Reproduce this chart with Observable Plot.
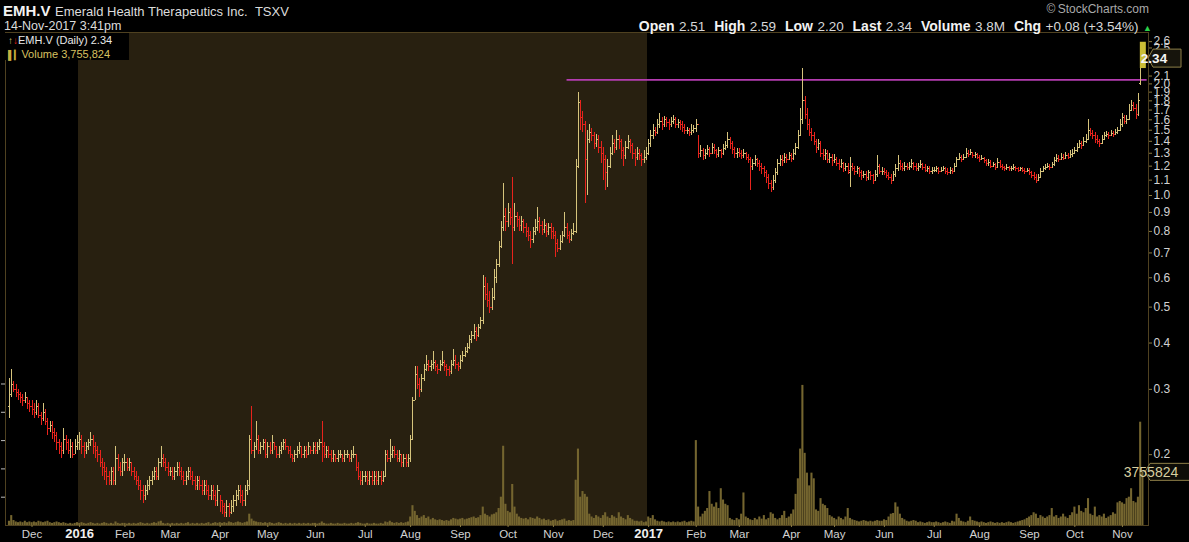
<!DOCTYPE html>
<html><head><meta charset="utf-8">
<script src="https://cdn.jsdelivr.net/npm/d3@7"></script>
<script src="https://cdn.jsdelivr.net/npm/@observablehq/plot@0.6"></script>
<style>
html,body{margin:0;padding:0;background:#000;}
#wrap{position:relative;width:1189px;height:542px;background:#000;overflow:hidden;font-family:"Liberation Sans",Arial,sans-serif;}
#wrap svg{position:absolute;left:0;top:0;}
.hdr{position:absolute;white-space:nowrap;color:#e6e6e6;line-height:1;}
</style></head><body><div id="wrap"></div>
<script>
// ---------- data ----------
const ticker = "EMH.V";
const company = "Emerald Health Therapeutics Inc.";
const exchange = "TSXV";
const stamp = "14-Nov-2017 3:41pm";
const lastDate = "2017-11-14";
const holidays = ["2015-12-25","2015-12-28","2016-01-01","2016-02-15","2016-03-25","2016-05-23","2016-07-01","2016-08-01","2016-09-05","2016-10-10","2016-12-26","2016-12-27","2017-01-02","2017-02-20","2017-04-14","2017-05-22","2017-07-03","2017-08-07","2017-09-04","2017-10-09"];
const quoteLabels = ["Open","High","Low","Last","Volume","Chg"];
const quoteValues = ["2.51","2.59","2.20","2.34","3.8M","+0.08 (+3.54%)"];
const lastVolume = 3755824;
const resistance = 2.05;
const resistanceFrom = "2016-11-09";
const priceTicks = [0.2,0.3,0.4,0.5,0.6,0.7,0.8,0.9,1.0,1.1,1.2,1.3,1.4,1.5,1.6,1.7,1.8,1.9,2.0,2.1,2.5,2.6];
const volumeTicks = [2,4,6,8,10];
const monthNames = ["Jan","Feb","Mar","Apr","May","Jun","Jul","Aug","Sep","Oct","Nov","Dec"];

const open = [
.27,.29,.31,.30,.295,.29,.285,.28,.285,.275,
.27,.265,.26,.27,.255,.25,.26,.245,.235,.24,.23,.225,.215,.21,.205,.22,.215,.205,.21,.20,.21,
.215,.22,.21,.205,.21,.215,.22,.21,.205,.20,.19,.185,.18,.175,.17,.18,.17,.195,.185,.18,
.19,.19,.185,.19,.18,.175,.17,.165,.16,.155,.16,.165,.17,.175,.18,.175,.19,.195,.19,.185,
.18,.18,.175,.18,.185,.18,.175,.17,.175,.18,.175,.17,.165,.17,.165,.16,.165,.16,.155,.16,.155,.15,
.16,.15,.145,.14,.145,.14,.145,.15,.155,.16,.155,.15,.16,.165,.22,.205,.21,.22,.205,.21,.215,
.20,.21,.205,.215,.21,.20,.205,.21,.215,.21,.205,.20,.195,.20,.205,.21,.20,.205,.20,.21,.205,
.21,.205,.21,.215,.21,.20,.205,.20,.195,.20,.195,.20,.20,.195,.20,.20,.195,.20,.20,.185,.175,.17,
.175,.175,.17,.175,.17,.175,.17,.175,.17,.175,.20,.195,.20,.205,.20,.195,.20,.19,.195,.19,
.195,.22,.28,.33,.31,.30,.32,.34,.35,.345,.35,.355,.345,.34,.35,.355,.345,.34,.335,.35,.36,.35,
.345,.36,.37,.38,.39,.41,.42,.43,.42,.44,.46,.57,.54,.52,.50,.53,.60,.65,.73,.82,.88,
.85,.90,.87,.82,.88,.86,.83,.85,.82,.80,.78,.76,.80,.82,.85,.83,.81,.83,.80,.82,
.80,.78,.74,.72,.75,.78,.82,.78,.76,.79,.80,1.20,1.78,1.62,1.55,1.25,1.42,1.48,1.45,1.38,1.42,1.35,
1.30,1.25,1.15,1.20,1.30,1.38,1.35,1.42,1.40,1.32,1.28,1.35,1.40,1.36,1.30,1.27,1.30,1.28,1.25,1.27,
1.30,1.38,1.45,1.50,1.48,1.55,1.58,1.55,1.60,1.57,1.55,1.58,1.60,1.55,1.57,1.55,1.53,1.50,1.50,1.48,1.50,
1.52,1.55,1.30,1.32,1.28,1.30,1.33,1.30,1.35,1.32,1.29,1.32,1.30,1.34,1.36,1.42,1.38,1.33,1.30,
1.31,1.30,1.28,1.30,1.27,1.25,1.20,1.22,1.25,1.22,1.20,1.18,1.15,1.12,1.08,1.05,1.10,1.15,1.22,1.25,1.24,1.27,1.25,
1.28,1.26,1.30,1.35,1.45,1.60,1.80,1.65,1.55,1.48,1.45,1.40,1.35,1.38,1.30,1.28,1.30,1.25,1.27,
1.24,1.25,1.22,1.20,1.22,1.18,1.20,1.15,1.20,1.18,1.16,1.18,1.15,1.13,1.14,1.12,1.15,1.13,1.10,1.14,1.20,1.16,
1.16,1.15,1.13,1.12,1.10,1.14,1.18,1.22,1.20,1.18,1.20,1.19,1.20,1.22,1.20,1.18,1.20,1.21,1.19,1.17,1.18,1.16,
1.17,1.17,1.18,1.16,1.17,1.18,1.16,1.15,1.17,1.16,1.20,1.25,1.27,1.25,1.27,1.30,1.29,1.31,1.28,1.29,
1.27,1.25,1.26,1.24,1.22,1.23,1.20,1.21,1.19,1.23,1.20,1.19,1.18,1.19,1.18,1.18,1.19,1.18,1.17,1.18,1.17,1.16,
1.17,1.15,1.13,1.12,1.10,1.12,1.16,1.18,1.19,1.20,1.19,1.21,1.24,1.26,1.25,1.27,1.26,1.28,1.27,1.29,
1.30,1.32,1.35,1.38,1.36,1.40,1.42,1.50,1.47,1.45,1.42,1.40,1.38,1.42,1.45,1.46,1.45,1.47,1.46,1.48,1.50,
1.55,1.62,1.58,1.60,1.70,1.75,1.72,1.65,2.00,2.51
];
const high = [
.32,.34,.315,.31,.30,.295,.29,.295,.285,.28,
.28,.275,.28,.275,.26,.275,.265,.25,.245,.245,.235,.23,.22,.215,.235,.225,.22,.22,.215,.22,.225,
.23,.225,.215,.215,.22,.23,.225,.215,.21,.205,.195,.19,.185,.18,.185,.185,.21,.20,.19,.195,
.20,.195,.195,.19,.185,.18,.175,.17,.165,.165,.17,.175,.18,.185,.185,.195,.21,.20,.195,.19,
.185,.185,.185,.19,.19,.185,.18,.18,.185,.185,.18,.175,.175,.175,.17,.17,.17,.165,.165,.165,.16,.165,
.155,.15,.148,.15,.148,.15,.155,.16,.165,.165,.16,.165,.17,.225,.27,.215,.245,.225,.215,.22,.22,
.215,.215,.225,.215,.21,.21,.215,.22,.22,.21,.21,.20,.205,.21,.215,.21,.21,.21,.215,.21,.215,
.215,.215,.22,.245,.215,.21,.21,.205,.205,.20,.205,.205,.20,.205,.205,.20,.205,.21,.20,.19,.18,.18,
.18,.18,.18,.18,.18,.18,.18,.18,.18,.205,.205,.22,.21,.21,.205,.205,.20,.20,.20,.20,
.225,.285,.345,.345,.32,.33,.35,.37,.36,.36,.38,.36,.35,.36,.38,.36,.35,.345,.36,.385,.37,.355,
.37,.38,.39,.40,.42,.43,.45,.44,.45,.47,.61,.60,.58,.55,.56,.63,.67,.75,.85,1.08,.92,
.95,.92,1.12,.95,.90,.88,.88,.86,.84,.82,.80,.82,.86,.93,.87,.85,.86,.84,.84,.84,
.82,.80,.76,.78,.80,.90,.84,.80,.81,.84,1.25,1.90,1.80,1.68,1.58,1.50,1.55,1.52,1.48,1.46,1.45,1.40,
1.35,1.28,1.25,1.35,1.45,1.42,1.50,1.45,1.42,1.35,1.40,1.45,1.42,1.38,1.33,1.35,1.33,1.30,1.32,1.35,
1.42,1.50,1.55,1.53,1.60,1.66,1.62,1.63,1.62,1.60,1.62,1.64,1.62,1.60,1.59,1.58,1.55,1.53,1.52,1.55,1.54,
1.60,1.45,1.36,1.34,1.33,1.36,1.35,1.38,1.37,1.33,1.35,1.33,1.37,1.40,1.48,1.43,1.40,1.35,1.34,
1.34,1.32,1.33,1.31,1.29,1.27,1.25,1.28,1.26,1.24,1.22,1.20,1.17,1.14,1.10,1.13,1.18,1.25,1.28,1.28,1.30,1.29,1.31,
1.30,1.33,1.38,1.50,1.72,2.20,1.85,1.72,1.60,1.52,1.48,1.42,1.42,1.40,1.33,1.33,1.32,1.30,1.29,
1.29,1.27,1.25,1.25,1.23,1.22,1.22,1.27,1.22,1.20,1.20,1.19,1.17,1.16,1.16,1.17,1.16,1.14,1.17,1.28,1.21,1.19,
1.18,1.17,1.15,1.14,1.16,1.21,1.28,1.24,1.22,1.23,1.22,1.23,1.25,1.23,1.22,1.22,1.24,1.22,1.21,1.20,1.20,1.19,
1.19,1.20,1.19,1.19,1.20,1.19,1.18,1.19,1.18,1.22,1.27,1.30,1.28,1.29,1.34,1.32,1.33,1.31,1.31,1.30,
1.28,1.28,1.27,1.25,1.25,1.24,1.23,1.22,1.26,1.24,1.21,1.20,1.21,1.20,1.20,1.21,1.20,1.19,1.19,1.19,1.18,1.18,
1.18,1.16,1.15,1.14,1.14,1.18,1.20,1.21,1.22,1.21,1.23,1.27,1.29,1.28,1.30,1.29,1.31,1.30,1.32,1.33,
1.35,1.38,1.41,1.40,1.43,1.46,1.60,1.52,1.50,1.48,1.45,1.42,1.45,1.48,1.49,1.48,1.50,1.49,1.51,1.53,1.60,
1.66,1.64,1.64,1.76,1.80,1.78,1.76,1.88,2.28,2.59
];
const low = [
.25,.285,.295,.285,.28,.275,.27,.275,.265,.26,
.255,.25,.255,.25,.24,.245,.24,.225,.23,.22,.215,.205,.20,.195,.20,.205,.20,.195,.195,.20,.205,
.205,.20,.195,.20,.205,.21,.20,.195,.19,.185,.175,.17,.165,.165,.165,.165,.165,.18,.175,.175,
.18,.18,.18,.175,.17,.165,.16,.15,.148,.15,.155,.16,.165,.17,.17,.17,.185,.185,.18,.175,
.175,.17,.17,.175,.175,.17,.165,.165,.17,.17,.165,.16,.16,.16,.155,.155,.155,.15,.15,.15,.145,.145,
.14,.138,.135,.135,.135,.138,.14,.145,.15,.148,.145,.145,.155,.16,.20,.195,.205,.20,.20,.205,.195,
.195,.20,.20,.205,.195,.195,.20,.205,.205,.20,.195,.19,.19,.195,.20,.195,.195,.195,.20,.20,.20,
.20,.20,.205,.19,.195,.195,.195,.19,.19,.19,.19,.195,.19,.19,.195,.19,.19,.195,.18,.17,.165,.165,
.168,.165,.165,.165,.165,.165,.165,.165,.168,.175,.19,.19,.195,.195,.19,.19,.185,.185,.185,.185,
.19,.22,.28,.30,.285,.295,.315,.335,.335,.335,.34,.335,.33,.335,.345,.335,.325,.325,.33,.345,.34,.335,
.34,.355,.365,.375,.385,.40,.41,.405,.415,.435,.45,.52,.50,.48,.49,.52,.58,.64,.72,.80,.80,
.82,.83,.65,.80,.82,.80,.80,.79,.77,.75,.72,.74,.78,.80,.79,.78,.79,.77,.78,.76,
.76,.68,.70,.71,.74,.77,.76,.74,.75,.78,.79,1.18,1.50,1.48,.95,1.00,1.38,1.40,1.33,1.35,1.30,1.22,
1.10,1.03,1.05,1.18,1.28,1.30,1.32,1.33,1.25,1.20,1.25,1.33,1.30,1.25,1.20,1.24,1.24,1.20,1.22,1.24,
1.28,1.35,1.42,1.44,1.46,1.52,1.50,1.53,1.53,1.50,1.53,1.55,1.52,1.52,1.50,1.48,1.46,1.46,1.44,1.45,1.47,
1.48,1.26,1.27,1.24,1.25,1.28,1.27,1.29,1.29,1.26,1.27,1.26,1.28,1.32,1.34,1.33,1.29,1.26,1.26,
1.27,1.25,1.26,1.24,1.22,1.03,1.17,1.20,1.19,1.16,1.14,1.12,1.08,1.04,1.02,1.03,1.08,1.13,1.20,1.20,1.22,1.22,1.24,
1.23,1.24,1.28,1.33,1.44,1.55,1.60,1.50,1.44,1.40,1.36,1.30,1.32,1.27,1.24,1.24,1.22,1.22,1.20,
1.22,1.20,1.17,1.18,1.15,1.16,1.14,1.05,1.16,1.13,1.14,1.12,1.10,1.11,1.09,1.10,1.10,1.07,1.09,1.12,1.14,1.13,
1.13,1.11,1.10,1.07,1.09,1.12,1.16,1.17,1.16,1.16,1.17,1.17,1.18,1.17,1.16,1.16,1.18,1.17,1.15,1.15,1.14,1.14,
1.15,1.15,1.14,1.15,1.16,1.14,1.13,1.14,1.14,1.15,1.19,1.24,1.23,1.24,1.26,1.27,1.28,1.26,1.26,1.25,
1.23,1.24,1.22,1.20,1.20,1.18,1.19,1.17,1.18,1.18,1.17,1.16,1.17,1.16,1.16,1.17,1.16,1.15,1.16,1.15,1.14,1.15,
1.13,1.11,1.10,1.08,1.09,1.11,1.15,1.17,1.18,1.17,1.18,1.20,1.23,1.23,1.24,1.24,1.25,1.25,1.26,1.27,
1.29,1.31,1.34,1.33,1.36,1.38,1.41,1.44,1.42,1.38,1.37,1.35,1.37,1.41,1.43,1.42,1.44,1.43,1.45,1.46,1.49,
1.53,1.55,1.55,1.59,1.68,1.68,1.60,1.63,1.98,2.20
];
const close = [
.29,.31,.30,.295,.29,.285,.28,.285,.275,.27,
.265,.26,.27,.255,.25,.26,.245,.235,.24,.23,.225,.215,.21,.205,.22,.215,.205,.21,.20,.21,.215,
.22,.21,.205,.21,.215,.22,.21,.205,.20,.19,.185,.18,.175,.17,.18,.17,.195,.185,.18,.19,
.19,.185,.19,.18,.175,.17,.165,.16,.155,.16,.165,.17,.175,.18,.175,.19,.195,.19,.185,.18,
.18,.175,.18,.185,.18,.175,.17,.175,.18,.175,.17,.165,.17,.165,.16,.165,.16,.155,.16,.155,.15,.16,
.15,.145,.14,.145,.14,.145,.15,.155,.16,.155,.15,.16,.165,.22,.205,.21,.22,.205,.21,.215,.20,
.21,.205,.215,.21,.20,.205,.21,.215,.21,.205,.20,.195,.20,.205,.21,.20,.205,.20,.21,.205,.21,
.205,.21,.215,.21,.20,.205,.20,.195,.20,.195,.20,.20,.195,.20,.20,.195,.20,.20,.185,.175,.17,.175,
.175,.17,.175,.17,.175,.17,.175,.17,.175,.20,.195,.20,.205,.20,.195,.20,.19,.195,.19,.195,
.22,.28,.33,.31,.30,.32,.34,.35,.345,.35,.355,.345,.34,.35,.355,.345,.34,.335,.35,.36,.35,.345,
.36,.37,.38,.39,.41,.42,.43,.42,.44,.46,.57,.54,.52,.50,.53,.60,.65,.73,.82,.88,.85,
.90,.87,.82,.88,.86,.83,.85,.82,.80,.78,.76,.80,.82,.85,.83,.81,.83,.80,.82,.80,
.78,.74,.72,.75,.78,.82,.78,.76,.79,.80,1.20,1.78,1.62,1.55,1.25,1.42,1.48,1.45,1.38,1.42,1.35,1.30,
1.25,1.15,1.20,1.30,1.38,1.35,1.42,1.40,1.32,1.28,1.35,1.40,1.36,1.30,1.27,1.30,1.28,1.25,1.27,1.30,
1.38,1.45,1.50,1.48,1.55,1.58,1.55,1.60,1.57,1.55,1.58,1.60,1.55,1.57,1.55,1.53,1.50,1.50,1.48,1.50,1.52,
1.55,1.30,1.32,1.28,1.30,1.33,1.30,1.35,1.32,1.29,1.32,1.30,1.34,1.36,1.42,1.38,1.33,1.30,1.31,
1.30,1.28,1.30,1.27,1.25,1.20,1.22,1.25,1.22,1.20,1.18,1.15,1.12,1.08,1.05,1.10,1.15,1.22,1.25,1.24,1.27,1.25,1.28,
1.26,1.30,1.35,1.45,1.60,1.80,1.65,1.55,1.48,1.45,1.40,1.35,1.38,1.30,1.28,1.30,1.25,1.27,1.24,
1.25,1.22,1.20,1.22,1.18,1.20,1.17,1.20,1.18,1.16,1.18,1.15,1.13,1.14,1.12,1.15,1.13,1.10,1.14,1.20,1.16,1.16,
1.15,1.13,1.12,1.10,1.14,1.18,1.22,1.20,1.18,1.20,1.19,1.20,1.22,1.20,1.18,1.20,1.21,1.19,1.17,1.18,1.16,1.17,
1.17,1.18,1.16,1.17,1.18,1.16,1.15,1.17,1.16,1.20,1.25,1.27,1.25,1.27,1.30,1.29,1.31,1.28,1.29,1.27,
1.25,1.26,1.24,1.22,1.23,1.20,1.21,1.19,1.23,1.20,1.19,1.18,1.19,1.18,1.18,1.19,1.18,1.17,1.18,1.17,1.16,1.17,
1.15,1.13,1.12,1.10,1.12,1.16,1.18,1.19,1.20,1.19,1.21,1.24,1.26,1.25,1.27,1.26,1.28,1.27,1.29,1.30,
1.32,1.35,1.38,1.36,1.40,1.42,1.50,1.47,1.45,1.42,1.40,1.38,1.42,1.45,1.46,1.45,1.47,1.46,1.48,1.50,1.55,
1.62,1.58,1.60,1.70,1.75,1.72,1.65,1.80,2.26,2.34
];
// volume in millions of shares
const volumeM = [
0.3,0.7,0.35,0.25,0.2,0.25,0.2,0.3,0.2,0.25,
0.2,0.25,0.2,0.3,0.25,0.2,0.25,0.3,0.2,0.15,0.2,0.25,0.2,0.15,0.2,0.15,0.1,0.15,0.1,0.15,0.2,
0.15,0.2,0.15,0.1,0.15,0.2,0.15,0.1,0.15,0.1,0.15,0.2,0.15,0.1,0.15,0.1,0.25,0.15,0.1,0.15,
0.15,0.1,0.15,0.1,0.15,0.1,0.15,0.2,0.15,0.1,0.15,0.1,0.15,0.2,0.15,0.25,0.3,0.15,0.1,0.15,
0.1,0.15,0.1,0.15,0.1,0.15,0.1,0.15,0.2,0.1,0.15,0.1,0.15,0.1,0.15,0.1,0.15,0.2,0.1,0.15,0.2,0.15,
0.2,0.15,0.2,0.15,0.25,0.2,0.15,0.2,0.25,0.2,0.15,0.2,0.25,0.8,0.45,0.3,0.25,0.2,0.2,0.15,0.2,
0.15,0.2,0.15,0.1,0.15,0.2,0.15,0.1,0.15,0.1,0.15,0.1,0.15,0.1,0.15,0.1,0.15,0.1,0.15,0.1,0.15,
0.15,0.1,0.15,0.25,0.15,0.1,0.1,0.15,0.1,0.1,0.15,0.1,0.1,0.15,0.1,0.1,0.15,0.1,0.15,0.2,0.15,0.1,
0.1,0.15,0.1,0.1,0.15,0.1,0.1,0.15,0.1,0.25,0.2,0.3,0.2,0.15,0.2,0.15,0.2,0.15,0.2,0.25,
0.6,1.4,1.0,0.7,0.5,0.6,0.7,0.5,0.6,0.4,0.5,0.4,0.35,0.4,0.35,0.3,0.35,0.3,0.4,0.5,0.45,0.4,
0.45,0.5,0.4,0.45,0.5,0.55,0.6,0.5,0.55,0.7,1.3,0.8,0.7,0.6,0.75,0.8,0.9,1.2,2.0,5.6,1.5,
1.0,0.9,2.9,1.3,0.8,0.6,0.5,0.45,0.5,0.4,0.55,0.5,0.45,0.6,0.5,0.4,0.45,0.35,0.4,0.3,
0.35,0.4,0.3,0.35,0.4,0.45,0.3,0.35,0.3,0.35,3.2,5.4,2.0,2.4,2.2,2.0,0.8,0.6,0.5,0.7,0.6,0.5,
0.7,0.9,0.6,0.5,0.7,0.6,0.5,0.9,0.6,0.5,0.4,0.7,0.5,0.4,0.3,0.3,0.25,0.3,0.2,0.25,
0.6,0.5,0.7,0.4,0.3,0.25,0.3,0.25,0.2,0.25,0.2,0.25,0.2,0.25,0.2,0.25,0.3,0.2,0.25,0.3,0.25,
6.0,1.3,0.6,0.8,1.0,1.2,2.4,1.5,1.3,1.6,1.2,2.6,1.8,1.5,1.4,0.5,0.4,0.35,0.5,
0.4,0.8,2.3,0.6,0.5,0.4,0.35,0.5,0.4,0.6,0.45,0.7,0.4,0.5,0.9,0.8,0.5,0.4,0.5,0.7,1.0,0.5,0.6,
0.8,1.1,2.2,3.3,5.4,9.9,5.1,3.7,2.8,3.7,3.3,1.1,1.0,1.9,1.5,1.4,1.2,0.7,0.6,
0.5,0.4,0.6,0.5,0.4,0.6,1.2,0.5,0.4,0.35,0.3,0.25,0.3,0.35,0.3,0.25,0.3,0.25,0.3,0.35,0.3,0.3,
0.4,0.35,0.6,0.8,0.85,1.6,1.3,0.8,0.5,0.4,0.3,0.25,0.3,0.35,0.3,0.2,0.25,0.2,0.15,0.2,0.25,0.2,
0.2,0.25,0.2,0.15,0.2,0.25,0.2,0.15,0.3,0.25,0.8,0.5,0.3,0.25,0.2,0.3,0.6,0.35,0.3,0.25,
0.2,0.25,0.2,0.15,0.2,0.25,0.2,0.15,0.2,0.15,0.2,0.15,0.2,0.25,0.2,0.15,0.2,0.25,0.3,0.35,0.4,0.5,
0.6,0.7,0.9,0.8,0.5,0.7,0.6,0.5,0.6,0.7,1.2,0.6,0.7,0.5,0.6,0.8,0.6,0.5,0.7,0.9,
1.3,0.8,1.4,1.0,0.9,1.2,1.9,0.8,0.7,1.3,0.6,0.7,0.6,0.8,0.5,0.6,0.7,0.9,0.8,1.6,1.7,
1.6,1.5,1.9,2.0,2.6,1.7,1.6,2.0,7.3,3.755824
];

// ---------- build ----------
const n = Math.min(open.length, high.length, low.length, close.length, volumeM.length);
function tradingDays(count) {
  const hol = new Set(holidays);
  const out = [];
  let t = Date.parse(lastDate + "T00:00:00Z");
  while (out.length < count) {
    const d = new Date(t);
    const s = d.toISOString().slice(0, 10);
    const wd = d.getUTCDay();
    if (wd !== 0 && wd !== 6 && !hol.has(s)) out.push(s);
    t -= 86400000;
  }
  return out.reverse();
}
const dates = tradingDays(n);
const tail = a => a.slice(a.length - n);
const O = tail(open), Hh = tail(high), L = tail(low), C = tail(close), V = tail(volumeM);
const bars = d3.range(n).map(i => {
  const c = C[i], prev = i > 0 ? C[i - 1] : O[i];
  return {i, date: dates[i], o: O[i], h: Hh[i], l: L[i], c, v: V[i], up: c >= prev};
});
const UP = "#d6c47c", DOWN = "#e8231c";
const monthTicks = [], yearTicks = [];
for (let i = 1; i < n; i++) {
  if (dates[i].slice(5, 7) !== dates[i - 1].slice(5, 7)) {
    if (dates[i].slice(5, 7) === "01") yearTicks.push(i); else monthTicks.push(i);
  }
}
const tickLabel = i => {
  const m = +dates[i].slice(5, 7) - 1;
  return m === 0 ? dates[i].slice(0, 4) : monthNames[m];
};
const W = 1189, H = 542;
const X0 = -1.7, X1 = n + 1.5;
const priceMin = 0.1288, priceMax = 2.752;
const volMax = 34.84;
const m = {marginLeft: 5, marginRight: 41, marginTop: 32, marginBottom: 17};
const font = '"Liberation Sans", Arial, sans-serif';
const shade = {x1: yearTicks[0] - 0.5, x2: yearTicks[1] - 0.5};
const resIdx = dates.findIndex(d => d >= resistanceFrom);
const last = bars[n - 1];
const barColor = d => d.up ? UP : DOWN;

const volPlot = Plot.plot({
  width: W, height: H, ...m,
  style: {background: "#000", color: "#c8c8c8", fontFamily: font},
  x: {domain: [X0, X1], axis: null},
  y: {domain: [0, volMax], axis: null},
  marks: [
    Plot.rect([shade], {x1: "x1", x2: "x2", y1: 0, y2: volMax, fill: "#282010"}),
    Plot.rectY(bars, {x1: d => d.i - 0.5, x2: d => d.i + 0.5, y: "v", fill: "#74652f", insetLeft: 0.2}),
    Plot.axisY({anchor: "left", ticks: volumeTicks, tickSize: 4, tickFormat: () => "", label: null, stroke: "#bdbdbd"}),
    Plot.frame({stroke: "#4f4120"})
  ]
});

const pricePlot = Plot.plot({
  width: W, height: H, ...m,
  style: {background: "transparent", color: "#d2d2d2", fontFamily: font},
  x: {domain: [X0, X1], axis: null},
  y: {type: "log", domain: [priceMin, priceMax], axis: null},
  color: {type: "identity"},
  marks: [
    Plot.ruleY([resistance], {x1: resIdx, x2: X1 - 0.6, stroke: "#b43cb0", strokeWidth: 1.6}),
    Plot.ruleX(bars, {x: "i", y1: "l", y2: "h", stroke: barColor, strokeWidth: 1, shapeRendering: "crispEdges"}),
    Plot.link(bars, {x1: d => d.i - 0.75, x2: "i", y1: "o", y2: "o", stroke: barColor, strokeWidth: 1, shapeRendering: "crispEdges"}),
    Plot.link(bars, {x1: "i", x2: d => d.i + 0.75, y1: "c", y2: "c", stroke: barColor, strokeWidth: 1, shapeRendering: "crispEdges"}),
    Plot.ruleX([last], {x: "i", y1: "l", y2: "h", stroke: "#cbbd36", strokeWidth: 6}),
    Plot.axisY({anchor: "right", ticks: priceTicks, tickFormat: d3.format(".1f"), tickSize: 3, tickPadding: 2, fontSize: 12, label: null, stroke: "#8a7a40"}),
    Plot.axisX({ticks: monthTicks, tickFormat: tickLabel, tickSize: 2, tickPadding: 2, fontSize: 11.5, label: null, stroke: "#8a7a40"}),
    Plot.axisX({ticks: yearTicks, tickFormat: tickLabel, tickSize: 2, tickPadding: 1, fontSize: 13, fontWeight: "bold", label: null, fill: "#f0f0f0", stroke: "#8a7a40"})
  ]
});

const wrap = document.getElementById("wrap");
wrap.appendChild(volPlot);
wrap.appendChild(pricePlot);

// value tags on the right axis
const sy = pricePlot.scale("y"), vy = volPlot.scale("y");
const svg = d3.select(pricePlot);
function tag(y, x0, x1, text, opts) {
  const h = opts.h;
  svg.append("path")
    .attr("d", `M${x0},${y} L${x0 + 5},${y - h / 2} L${x1},${y - h / 2} L${x1},${y + h / 2} L${x0 + 5},${y + h / 2} Z`)
    .attr("fill", opts.fill).attr("stroke", opts.stroke).attr("stroke-width", 1);
  svg.append("text").attr("x", x0 + 6).attr("y", y).attr("dy", "0.36em")
    .style("fill", opts.color).style("font-size", opts.size + "px").style("font-weight", opts.weight)
    .style("font-family", font).text(text);
}
tag(sy.apply(last.c), 1148, 1181, d3.format(".2f")(last.c), {h: 18, fill: "#16140c", stroke: "#8f8048", color: "#f4f4f4", size: 13.5, weight: "bold"});
tag(vy.apply(lastVolume / 1e6), 1145, 1195, String(lastVolume), {h: 17, fill: "#0e0d08", stroke: "#8f8048", color: "#d8cfa0", size: 14, weight: "normal"});

// header
function div(html, css) {
  const d = document.createElement("div");
  d.className = "hdr"; d.innerHTML = html; Object.assign(d.style, css); wrap.appendChild(d);
}
div(`<span style="font-weight:bold;font-size:15px;color:#f2f2f2">${ticker}</span> <span style="font-size:13px;color:#dcdcdc">${company}&nbsp;&nbsp;${exchange}</span>`, {left: "3px", top: "3px"});
div(stamp, {left: "4px", top: "20px", fontSize: "12.5px", color: "#dcdcdc"});
div("&#169;&thinsp;StockCharts.com", {right: "40px", top: "3px", fontSize: "12px", color: "#a9a9a9"});
div(quoteLabels.map((q, k) => `<b style="font-size:14px;color:#f2f2f2">${q}</b> <span style="font-size:13.5px;color:#d8d8d8">${quoteValues[k]}</span>`).join("&nbsp;&nbsp;") + ` <span style="color:#2bd24a;font-size:9px">&#9650;</span>`, {right: "37px", top: "18px"});
// legend box
div(`<span style="color:#d6c47c;font-size:10px">&#8593;</span><span style="color:#e8231c;font-size:10px">&#8595;</span><span style="color:#e8e8e8">${ticker} (Daily) ${d3.format(".2f")(last.c)}</span><br><span style="color:#c8b040;font-size:9px">&#9612;&#9614;</span><span style="color:#d8c060">Volume ${d3.format(",")(lastVolume)}</span>`,
  {left: "5px", top: "33px", width: "124px", height: "27px", background: "#000", fontSize: "11px", lineHeight: "12.5px", paddingLeft: "3px", paddingTop: "1px", boxSizing: "border-box"});
</script>
</body></html>
